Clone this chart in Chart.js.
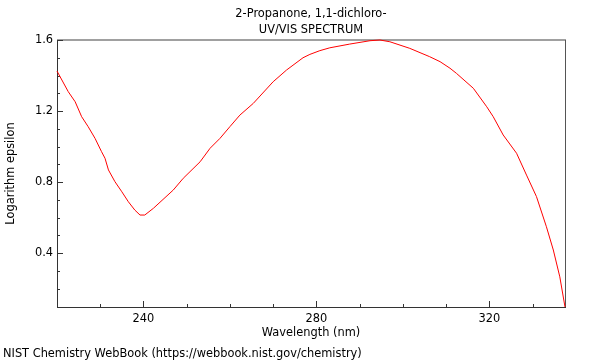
<!DOCTYPE html>
<html>
<head>
<meta charset="utf-8">
<script src="https://cdn.jsdelivr.net/npm/chart.js@4/dist/chart.umd.min.js"></script>
<style>
  html, body { margin: 0; padding: 0; background: #fff; }
  #wrap { position: relative; width: 600px; height: 360px; font-family: "DejaVu Sans", sans-serif; font-size: 11.4px; color: #000; }
  #chart { position: absolute; left: 0; top: 0; }
  .title { position: absolute; left: 57px; width: 508px; text-align: center; line-height: 14px; white-space: nowrap; }
  #t1 { top: 6px; }
  #t2 { top: 22px; }
  #footer { position: absolute; left: 3px; top: 346px; line-height: 14px; white-space: nowrap; }
</style>
</head>
<body>
<div id="wrap">
  <canvas id="chart" width="600" height="360"></canvas>
  <div class="title" id="t1">2-Propanone, 1,1-dichloro-</div>
  <div class="title" id="t2">UV/VIS SPECTRUM</div>
  <div id="footer">NIST Chemistry WebBook (https://webbook.nist.gov/chemistry)</div>
</div>
<script>
// spectrum
const wavelengths = [
  220.0, 222.6, 224.2, 225.7, 227.2, 228.8, 230.3, 231.1, 231.9, 233.4,
  235.0, 236.5, 238.0, 239.2, 240.3, 242.3, 246.9, 249.2, 253.1, 255.4,
  257.7, 260.0, 262.3, 265.4, 270.0, 273.1, 276.9, 278.5, 280.8, 283.1,
  287.7, 292.4, 294.7, 297.0, 301.6, 306.2, 308.6, 310.9, 312.4, 316.3,
  319.4, 320.9, 323.2, 326.3, 328.6, 330.9, 333.2, 334.8, 336.3, 337.5
];
const logEpsilon = [
  1.425, 1.309, 1.252, 1.168, 1.112, 1.046, 0.971, 0.934, 0.868, 0.802,
  0.745, 0.689, 0.642, 0.614, 0.614, 0.652, 0.755, 0.821, 0.914, 0.990,
  1.046, 1.112, 1.177, 1.243, 1.365, 1.431, 1.500, 1.519, 1.540, 1.556,
  1.577, 1.596, 1.600, 1.590, 1.553, 1.506, 1.478, 1.441, 1.412, 1.328,
  1.224, 1.168, 1.065, 0.962, 0.839, 0.718, 0.548, 0.417, 0.266, 0.096
];

const xTicks = [240, 280, 320];
const xMinorTicks = [230, 250, 260, 270, 290, 300, 310, 330];
const yTicks = [0.4, 0.8, 1.2, 1.6];
const yMinorTicks = [0.2, 0.3, 0.5, 0.6, 0.7, 0.9, 1.0, 1.1, 1.3, 1.4, 1.5];

const font = { family: '"DejaVu Sans", sans-serif', size: 11.4 };

// gray frame on top/right and the inward tick marks
const framePlugin = {
  id: 'frame',
  beforeDatasetsDraw(chart) {
    const { ctx, chartArea: a, scales } = chart;
    ctx.save();
    ctx.strokeStyle = '#a0a0a0';
    ctx.lineWidth = 2;
    ctx.beginPath();
    ctx.moveTo(a.left, a.top);
    ctx.lineTo(a.right + 1, a.top);
    ctx.stroke();

    ctx.strokeStyle = '#555';
    ctx.lineWidth = 1;
    ctx.beginPath();
    ctx.moveTo(a.right + 0.5, a.top);
    ctx.lineTo(a.right + 0.5, a.bottom);
    ctx.stroke();

    ctx.strokeStyle = '#333';
    ctx.beginPath();
    const xTick = (v, len) => {
      const px = Math.round(scales.x.getPixelForValue(v)) + 0.5;
      ctx.moveTo(px, a.bottom);
      ctx.lineTo(px, a.bottom - len);
    };
    const yTick = (v, len) => {
      const py = Math.round(scales.y.getPixelForValue(v)) + 0.5;
      ctx.moveTo(a.left, py);
      ctx.lineTo(a.left + len, py);
    };
    xTicks.forEach(v => xTick(v, 6));
    xMinorTicks.forEach(v => xTick(v, 3));
    yTicks.forEach(v => yTick(v, 6));
    yMinorTicks.forEach(v => yTick(v, 3));
    ctx.stroke();
    ctx.restore();
  }
};

Chart.defaults.font.family = font.family;
Chart.defaults.font.size = font.size;
Chart.defaults.color = '#000';

new Chart(document.getElementById('chart'), {
  type: 'line',
  data: {
    datasets: [{
      data: wavelengths.map((w, i) => ({ x: w, y: logEpsilon[i] })),
      borderColor: '#ff0000',
      borderWidth: 1,
      pointRadius: 0,
      tension: 0,
      clip: 2
    }]
  },
  options: {
    responsive: false,
    animation: false,
    layout: { padding: { top: 40, right: 35, left: 0, bottom: 0 } },
    plugins: { legend: { display: false }, tooltip: { enabled: false } },
    scales: {
      x: {
        type: 'linear',
        min: 220,
        max: 337.5,
        afterBuildTicks: s => { s.ticks = xTicks.map(v => ({ value: v })); },
        afterFit: s => { s.height = 53; },
        grid: { display: false, drawTicks: false },
        border: { display: true, color: '#333', width: 1 },
        ticks: { color: '#000', padding: 5, font, maxRotation: 0, callback: v => String(v) },
        title: { display: true, text: 'Wavelength (nm)', color: '#000', font, padding: { top: 0, bottom: 20 } }
      },
      y: {
        type: 'linear',
        min: 0.096,
        max: 1.6,
        afterBuildTicks: s => { s.ticks = yTicks.map(v => ({ value: v })); },
        afterFit: s => { s.width = 57; },
        grid: { display: false, drawTicks: false },
        border: { display: true, color: '#333', width: 1 },
        ticks: { color: '#000', padding: 4, font, callback: v => v.toFixed(1) },
        title: { display: true, text: 'Logarithm epsilon', color: '#000', font, padding: { top: 4, bottom: 0 } }
      }
    }
  },
  plugins: [framePlugin]
});
</script>
</body>
</html>
